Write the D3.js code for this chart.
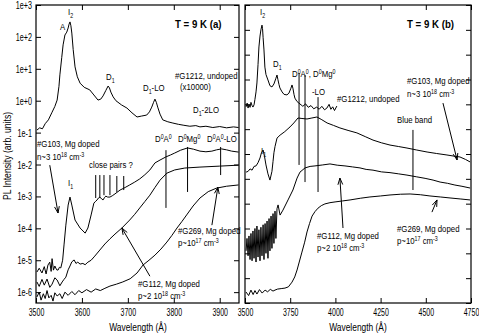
<!DOCTYPE html>
<html>
<head>
<meta charset="utf-8">
<script src="https://cdn.jsdelivr.net/npm/d3@7"></script>
<style>
  body { margin: 0; background: #fff; }
  text { font-family: "Liberation Sans", Arial, sans-serif; fill: #000; }
</style>
</head>
<body>
<div id="container"></div>
<script>
/* DATA : wavelength (Angstrom) and log10 of PL intensity */

// panel (a)
const g1212aWl = [3502,3508,3514,3520,3527,3535,3541,3546,3550,3552,3556,3559,3563,3567,3570,3572,3574,3576,3578,3581,3585,3590,3596,3605,3617,3626,3635,3641,3646,3652,3657,3660,3663,3668,3674,3686,3698,3709,3720,3730,3741,3747,3752,3756,3759,3762,3765,3770,3776,3787,3798,3810,3822,3835,3848,3857,3870,3885,3900,3915,3930,3941]
const g1212aLog = [-0.92,-0.85,-0.88,-0.72,-0.60,-0.36,-0.18,0.02,0.45,0.81,1.35,1.75,2.06,2.15,2.28,2.40,2.47,2.35,2.12,1.60,1.06,0.75,0.55,0.42,0.34,0.18,0.02,0.05,0.15,0.32,0.46,0.40,0.27,0.12,0.00,-0.13,-0.23,-0.38,-0.51,-0.48,-0.45,-0.35,-0.20,-0.05,0.05,-0.05,-0.20,-0.42,-0.60,-0.66,-0.70,-0.74,-0.77,-0.80,-0.78,-0.82,-0.80,-0.84,-0.81,-0.85,-0.82,-0.84]

const g103aWl = [3502,3507,3513,3518,3522,3526,3530,3533,3535,3538,3541,3545,3548,3551,3554,3558,3561,3565,3570,3574,3578,3585,3596,3607,3613,3620,3626,3630,3633,3636,3639,3643,3646,3649,3652,3656,3661,3666,3672,3683,3694,3704,3715,3726,3737,3748,3759,3770,3783,3793,3802,3815,3830,3843,3857,3870,3883,3893,3904,3915,3926,3941]
const g103aLog = [-5.37,-5.25,-5.40,-5.20,-5.43,-5.15,-5.06,-5.35,-4.95,-5.31,-5.18,-5.30,-5.31,-5.22,-5.24,-5.00,-4.52,-3.90,-3.27,-3.02,-3.27,-3.74,-3.99,-4.15,-3.99,-3.58,-3.21,-3.15,-3.11,-3.05,-3.02,-3.08,-3.11,-3.04,-2.99,-3.02,-3.02,-2.98,-2.92,-2.80,-2.72,-2.64,-2.55,-2.45,-2.32,-2.17,-1.95,-1.86,-1.76,-1.70,-1.64,-1.55,-1.48,-1.52,-1.58,-1.60,-1.58,-1.54,-1.51,-1.54,-1.58,-1.61]

const g112aWl = [3502,3507,3513,3518,3524,3530,3535,3541,3546,3552,3557,3561,3565,3570,3574,3578,3583,3587,3591,3596,3602,3607,3613,3620,3628,3639,3650,3661,3672,3687,3704,3715,3726,3737,3748,3759,3770,3785,3802,3824,3857,3900,3941]
const g112aLog = [-5.68,-5.82,-5.60,-5.78,-5.59,-5.85,-5.75,-5.55,-5.62,-5.80,-5.68,-5.60,-5.53,-5.30,-5.18,-5.05,-4.99,-5.10,-5.06,-5.12,-5.10,-5.14,-5.06,-5.00,-4.87,-4.68,-4.49,-4.33,-4.18,-3.99,-3.74,-3.56,-3.36,-3.16,-2.96,-2.72,-2.49,-2.27,-2.17,-2.11,-2.08,-2.05,-2.02]

const g269aWl = [3502,3507,3511,3516,3520,3524,3528,3533,3537,3541,3546,3552,3557,3563,3570,3578,3585,3593,3600,3610,3620,3630,3640,3650,3661,3675,3689,3705,3720,3733,3746,3759,3772,3785,3796,3807,3818,3828,3842,3857,3875,3893,3915,3941]
const g269aLog = [-6.15,-6.00,-6.25,-6.05,-6.20,-5.95,-6.18,-6.10,-6.28,-6.02,-6.12,-6.05,-6.20,-6.00,-6.10,-5.98,-6.08,-5.95,-6.02,-5.92,-6.00,-5.90,-5.95,-5.88,-5.81,-5.75,-5.68,-5.58,-5.40,-5.15,-5.00,-4.84,-4.65,-4.43,-4.22,-3.99,-3.78,-3.58,-3.30,-3.05,-2.85,-2.74,-2.68,-2.64]

// panel (b), arbitrary decades
const g1212bWl = [3506,3512,3517,3522,3528,3533,3539,3544,3550,3555,3561,3566,3572,3577,3583,3588,3594,3597,3600,3605,3610,3616,3627,3638,3649,3660,3671,3677,3682,3688,3693,3705,3716,3732,3743,3754,3760,3765,3771,3776,3787,3798,3810,3820,3835,3850,3865,3880,3897,3910,3925,3940,3953,3965,3975,3985,3995,4008]
const g1212bLog = [-0.10,0.05,-0.15,0.00,-0.12,0.08,-0.05,-0.11,-0.02,0.20,0.50,0.86,1.60,2.31,2.75,3.00,3.19,3.05,2.70,2.19,1.50,1.20,0.98,0.75,0.70,0.82,1.05,1.18,1.00,0.80,0.66,0.50,0.40,0.38,0.45,0.65,0.78,0.65,0.40,0.25,0.12,0.05,-0.02,-0.08,0.02,-0.12,-0.05,-0.18,-0.11,-0.20,-0.08,-0.22,-0.15,0.00,-0.20,-0.10,-0.25,-0.07]

const g103bWl = [3506,3517,3528,3539,3550,3561,3572,3583,3591,3600,3608,3616,3627,3638,3649,3655,3660,3666,3677,3694,3720,3749,3770,3793,3815,3843,3870,3898,3925,3954,3990,4025,4070,4119,4165,4208,4255,4302,4350,4396,4450,4507,4560,4617,4660,4689,4720,4745]
const g103bLog = [-2.73,-2.70,-2.60,-2.65,-2.50,-2.48,-2.35,-2.16,-1.95,-1.84,-2.10,-2.44,-2.80,-3.05,-2.70,-2.30,-1.95,-1.70,-1.36,-1.24,-1.10,-0.91,-0.75,-0.55,-0.57,-0.59,-0.55,-0.51,-0.62,-0.75,-0.85,-0.95,-1.05,-1.15,-1.30,-1.44,-1.55,-1.64,-1.70,-1.76,-1.84,-1.92,-1.98,-2.04,-2.09,-2.12,-2.22,-2.32]

const g112bWl = [3506,3511,3517,3522,3528,3533,3539,3544,3550,3555,3561,3566,3572,3577,3583,3588,3594,3600,3605,3611,3616,3622,3627,3633,3638,3644,3649,3655,3660,3666,3671,3677,3683,3694,3710,3738,3765,3788,3804,3832,3860,3887,3930,3970,4010,4053,4095,4136,4170,4208,4255,4302,4350,4396,4450,4496,4540,4579,4620,4661,4700,4745]
const g112bLog = [-5.90,-5.40,-6.10,-5.30,-6.25,-5.20,-6.30,-5.10,-6.20,-5.00,-6.35,-4.90,-6.15,-5.05,-6.30,-4.95,-6.10,-4.85,-6.25,-4.80,-6.00,-4.70,-6.20,-4.60,-5.90,-4.50,-5.80,-4.40,-5.60,-4.30,-5.40,-4.20,-4.05,-4.46,-4.26,-3.85,-3.45,-2.97,-2.73,-2.56,-2.50,-2.48,-2.44,-2.40,-2.45,-2.48,-2.52,-2.56,-2.62,-2.65,-2.72,-2.75,-2.80,-2.85,-2.92,-2.98,-3.05,-3.13,-3.18,-3.25,-3.30,-3.37]

const g269bWl = [3506,3520,3533,3545,3555,3566,3580,3595,3611,3625,3640,3655,3666,3680,3700,3721,3740,3760,3775,3788,3800,3815,3830,3843,3857,3871,3887,3904,3922,3942,3970,3998,4040,4081,4140,4191,4250,4302,4360,4413,4470,4523,4580,4634,4690,4745]
const g269bLog = [-7.56,-7.70,-7.48,-7.66,-7.50,-7.64,-7.46,-7.60,-7.48,-7.55,-7.45,-7.52,-7.48,-7.44,-7.42,-7.40,-7.35,-7.16,-6.95,-6.67,-6.35,-5.95,-5.55,-5.14,-4.80,-4.50,-4.32,-4.18,-4.08,-4.01,-3.96,-3.93,-3.89,-3.85,-3.78,-3.73,-3.69,-3.65,-3.62,-3.61,-3.64,-3.69,-3.73,-3.77,-3.81,-3.85]

// tick values
const xTicksA = [3500, 3600, 3700, 3800, 3900]
const xTicksB = [3500, 3750, 4000, 4250, 4500, 4750]
const yExpA = [3, 2, 1, 0, -1, -2, -3, -4, -5, -6]
const yExpB = [4, 3, 2, 1, 0, -1, -2, -3, -4, -5, -6, -7, -8]

// marker lines [wl1, log1, wl2, log2]
const linesA = [[3630,-2.33,3630,-3.05],[3639,-2.33,3639,-3.05],[3648,-2.33,3648,-2.96],[3661,-2.33,3661,-2.96],[3676,-2.36,3676,-2.86],[3691,-2.36,3691,-2.80],
  [3783,-1.55,3783,-3.36],[3830,-1.45,3830,-2.86],[3902,-1.45,3902,-2.33]]
const arrowsA = [[3530,-2.02,3548,-3.52],[3748,-5.50,3687,-3.99],[3883,-3.90,3896,-2.71]]
const linesB = [[3799,1.26,3799,-2.44],[3832,1.18,3832,-3.13],[3904,0.29,3904,-3.53],[4429,-1.03,4429,-3.45]]
const arrowsB = [[4595,0.05,4673,-2.24],[4042,-4.98,4025,-2.97],[4534,-4.34,4562,-3.85]]

/* SVG */
const svg = d3.select("#container")
  .append("svg")
  .attr("width", 479)
  .attr("height", 335)
  .style("background-color", "white")

// text with ^{sup} and _{sub}, squeezed horizontally like the original
function label(x, y, s, o = {}) {
  const size = o.size || 9.3, sx = o.sx || 0.84
  const t = svg.append("text")
    .attr("transform", `translate(${x},${y}) ${o.rotate ? "rotate(-90)" : ""} scale(${sx},1)`)
    .attr("font-size", size)
    .attr("text-anchor", o.anchor || "start")
    .attr("font-weight", o.bold ? "bold" : null)
  const re = /([\^_])\{([^}]*)\}|([^\^_]+)/g
  let m, shift = 0
  while ((m = re.exec(s))) {
    if (m[3]) {
      t.append("tspan").attr("dy", -shift).text(m[3]); shift = 0
    } else {
      const target = m[1] === "^" ? -size * 0.33 : size * 0.3
      t.append("tspan").attr("dy", target - shift).attr("font-size", size * 0.68).text(m[2]); shift = target
    }
  }
}

function panel(p) {
  const x = d3.scaleLinear().domain(p.xDomain).range([p.left, p.right])
  const y = d3.scaleLog().domain(p.yDomain).range([303, 5])
  const g = svg.append("g")

  const line = d3.line().x(d => x(d[0])).y(d => y(Math.pow(10, d[1])))
  p.series.forEach(s => {
    g.append("path")
      .attr("d", line(d3.zip(s[0], s[1])))
      .attr("fill", "none")
      .attr("stroke", "black")
      .attr("stroke-width", 1)
  })

  p.lines.forEach(l => {
    g.append("line")
      .attr("x1", x(l[0])).attr("y1", y(Math.pow(10, l[1])))
      .attr("x2", x(l[2])).attr("y2", y(Math.pow(10, l[3])))
      .attr("stroke", "black")
  })
  p.arrows.forEach(a => {
    const x1 = x(a[0]), y1 = y(Math.pow(10, a[1])), x2 = x(a[2]), y2 = y(Math.pow(10, a[3]))
    const ang = Math.atan2(y1 - y2, x1 - x2)
    g.append("line").attr("x1", x1).attr("y1", y1).attr("x2", x2).attr("y2", y2).attr("stroke", "black")
    ;[-0.35, 0.35].forEach(da => {
      g.append("line").attr("x1", x2).attr("y1", y2)
        .attr("x2", x2 + 7 * Math.cos(ang + da)).attr("y2", y2 + 7 * Math.sin(ang + da))
        .attr("stroke", "black")
    })
  })

  // axes, ticks pointing inside
  const yTicks = p.yExp.map(e => Math.pow(10, e))
  const ax = [
    g.append("g").attr("transform", "translate(0,303)")
      .call(d3.axisBottom(x).tickValues(p.xTicks).tickSizeInner(-5).tickSizeOuter(0).tickFormat(d3.format("d"))),
    g.append("g").attr("transform", "translate(0,5)")
      .call(d3.axisTop(x).tickValues(p.xTicks).tickSizeInner(-5).tickSizeOuter(0).tickFormat("")),
    g.append("g").attr("transform", `translate(${p.left},0)`)
      .call(d3.axisLeft(y).tickValues(yTicks).tickSizeInner(-5).tickSizeOuter(0)
        .tickFormat(p.yLabels ? (d => { const e = Math.round(Math.log10(d)); return "1e" + (e >= 0 ? "+" : "") + e }) : "")),
    g.append("g").attr("transform", `translate(${p.right},0)`)
      .call(d3.axisRight(y).tickValues(yTicks).tickSizeInner(-5).tickSizeOuter(0).tickFormat(""))
  ]
  ax.forEach(a => {
    a.select(".domain").remove()
    a.selectAll("line").attr("stroke", "black")
    a.selectAll("text").attr("fill", "black").attr("font-size", 10)
      .attr("font-family", "Liberation Sans, Arial, sans-serif")
  })
  ax[0].selectAll("text").attr("y", 0).attr("dy", 0).attr("transform", "translate(0,13) scale(0.7,1)")
  ax[2].selectAll("text").attr("x", 0).attr("dy", "0.35em").attr("transform", "translate(-4,0) scale(0.72,1)")

  g.append("rect")
    .attr("x", p.left).attr("y", 5)
    .attr("width", p.right - p.left).attr("height", 298)
    .attr("fill", "none").attr("stroke", "black").attr("stroke-width", 1.2)
}

panel({
  left: 36, right: 239, xDomain: [3500, 3942], yDomain: [Math.pow(10, -6.34), 1e3],
  xTicks: xTicksA, yExp: yExpA, yLabels: true,
  series: [[g1212aWl, g1212aLog], [g103aWl, g103aLog], [g112aWl, g112aLog], [g269aWl, g269aLog]],
  lines: linesA, arrows: arrowsA
})
panel({
  left: 245, right: 471, xDomain: [3500, 4750], yDomain: [1e-8, 1e4],
  xTicks: xTicksB, yExp: yExpB, yLabels: false,
  series: [[g1212bWl, g1212bLog], [g103bWl, g103bLog], [g112bWl, g112bLog], [g269bWl, g269bLog]],
  lines: linesB, arrows: arrowsB
})

/* LABELS */
label(11, 156, "PL Intensity (arb. units)", {size: 10.5, sx: 0.82, anchor: "middle", rotate: true})
label(138, 331, "Wavelength (Å)", {size: 10.5, sx: 0.8, anchor: "middle"})
label(358, 331, "Wavelength (Å)", {size: 10.5, sx: 0.8, anchor: "middle"})

// panel (a)
label(175, 28, "T = 9 K (a)", {size: 11, sx: 0.88, bold: true})
label(60, 30, "A")
label(68, 15, "I_{2}")
label(106, 80, "D_{1}")
label(143, 91, "D_{1}-LO")
label(175, 79, "#G1212, undoped")
label(180, 90, "(x10000)")
label(193, 113, "D_{1}-2LO")
label(37, 147, "#G103, Mg doped")
label(37, 160, "n~3 10^{18} cm^{-3}")
label(89, 168, "close pairs ?")
label(68, 186, "I_{1}")
label(155, 142, "D^{0}A^{0}")
label(178, 142, "D^{0}Mg^{0}")
label(207, 142, "D^{0}A^{0}-LO")
label(178, 234, "#G269, Mg doped")
label(178, 246, "p~10^{17} cm^{-3}")
label(138, 287, "#G112, Mg doped")
label(138, 299, "p~2 10^{18} cm^{-3}")

// panel (b)
label(407, 28, "T = 9 K (b)", {size: 11, sx: 0.88, bold: true})
label(260, 15, "I_{2}")
label(273, 67, "D_{1}")
label(292, 77, "D^{0}A^{0}, D^{0}Mg^{0}")
label(312, 95, "-LO")
label(337, 102, "#G1212, undoped")
label(407, 84, "#G103, Mg doped")
label(407, 97, "n~3 10^{18} cm^{-3}")
label(397, 123, "Blue band")
label(261, 154, "I_{1}")
label(317, 239, "#G112, Mg doped")
label(317, 251, "p~2 10^{18} cm^{-3}")
label(397, 232, "#G269, Mg doped")
label(397, 244, "p~10^{17} cm^{-3}")
</script>
</body>
</html>
